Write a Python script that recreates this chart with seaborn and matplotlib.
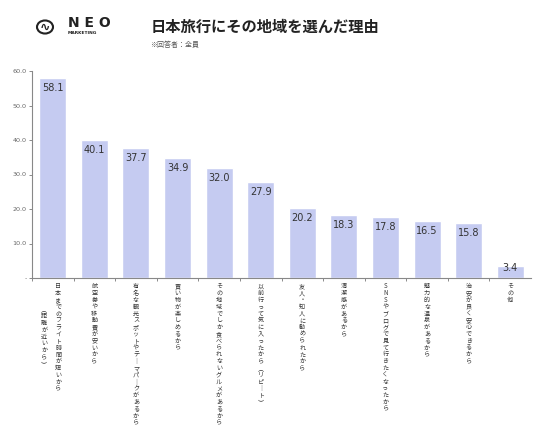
import matplotlib
matplotlib.use("Agg")
import matplotlib.pyplot as plt
import seaborn as sns
import pandas as pd
from matplotlib.patches import Circle

categories = [
    "日本までのフライト時間が短いから\n（距離が近いから）",
    "航空券や移動費が安いから",
    "有名な観光スポットやテーマパークがあるから",
    "買い物が楽しめるから",
    "その地域でしか食べられないグルメがあるから",
    "以前行って気に入ったから（リピート）",
    "友人・知人に勧められたから",
    "清潔感があるから",
    "SNSやブログで見て行きたくなったから",
    "魅力的な温泉があるから",
    "治安が良く安心できるから",
    "その他",
]
values = [58.1, 40.1, 37.7, 34.9, 32.0, 27.9, 20.2, 18.3, 17.8, 16.5, 15.8, 3.4]
y_ticks = [0, 10, 20, 30, 40, 50, 60]
y_tick_labels = ["-", "10.0", "20.0", "30.0", "40.0", "50.0", "60.0"]
title = "日本旅行にその地域を選んだ理由"
subtitle = "※回答者：全員"

sns.set_theme(style="white")
plt.rcParams["font.family"] = ["Noto Sans CJK JP", "DejaVu Sans"]

BAR = "#c5cbf1"
TXT = "#333333"
PX = 0.72  # points per pixel at dpi 100

fig = plt.figure(figsize=(5.36, 4.37), dpi=100)
ax = fig.add_axes([32 / 536, 1 - 278 / 437, (531 - 32) / 536, (278 - 71) / 437])

df = pd.DataFrame({"cat": [str(i) for i in range(len(categories))], "val": values})
sns.barplot(data=df, x="cat", y="val", color=BAR, width=0.65, saturation=1, ax=ax)

ax.set_xlim(-0.5, len(categories) - 0.5)
ax.set_ylim(0, 60)
ax.set_xlabel("")
ax.set_ylabel("")
ax.set_yticks(y_ticks)
ax.set_yticklabels(y_tick_labels, fontsize=4.6, color="#666666", family="DejaVu Sans")
ax.set_xticks([i + 0.5 for i in range(len(categories) - 1)] + [-0.5])
ax.set_xticklabels([])
ax.tick_params(axis="both", direction="out", length=2, width=0.6, color="#777777", pad=2,
               left=True, bottom=True)
for s in ["top", "right"]:
    ax.spines[s].set_visible(False)
for s in ["left", "bottom"]:
    ax.spines[s].set_color("#888888")
    ax.spines[s].set_linewidth(0.8)

# value labels
for i, v in enumerate(values):
    ax.text(i, max(v - 2.9, 2.9), f"{v:.1f}", ha="center", va="center",
            fontsize=7, color=TXT, family="DejaVu Sans")

VMAP = {"ー": "｜", "（": "︵", "）": "︶"}
PITCH = 6.8  # px per character

def vertical(x, text, dx_px, dy_px):
    trans = ax.get_xaxis_transform()
    for k, c in enumerate(text):
        ax.annotate(VMAP.get(c, c), xy=(x, 0), xycoords=trans,
                    xytext=(dx_px * PX, -(dy_px + (k + 0.5) * PITCH) * PX),
                    textcoords="offset points", ha="center", va="center",
                    fontsize=4.4, color=TXT, annotation_clip=False)

for i, lab in enumerate(categories):
    cols = lab.split("\n")
    if len(cols) == 1:
        vertical(i, cols[0], 0, 5)
    else:
        vertical(i, cols[0], 5.5, 5)
        vertical(i, cols[1], -8.5, 28)

# header
fig.text(151 / 536, 1 - 27 / 437, title, fontsize=11, fontweight="bold", color="#222222",
         ha="left", va="center")
fig.text(150 / 536, 1 - 45 / 437, subtitle, fontsize=5, color="#555555",
         ha="left", va="center")

# logo
circ = Circle((45 / 536, 1 - 27 / 437), 8 / 536, transform=fig.transFigure, fill=False,
              lw=1.5, ec="#222222", clip_on=False)
fig.add_artist(circ)
fig.text(45 / 536, 1 - 27 / 437, "∿", fontsize=9, ha="center", va="center", color="#222222",
         family="DejaVu Sans", fontweight="bold")
fig.text(68 / 536, 1 - 23 / 437, "N E O", fontsize=10, fontweight="bold", color="#222222",
         ha="left", va="center", family="DejaVu Sans")
fig.text(68 / 536, 1 - 33 / 437, "MARKETING", fontsize=3.2, fontweight="bold", color="#222222",
         ha="left", va="center", family="DejaVu Sans")

fig.savefig("out.png", dpi=100, facecolor="white")
